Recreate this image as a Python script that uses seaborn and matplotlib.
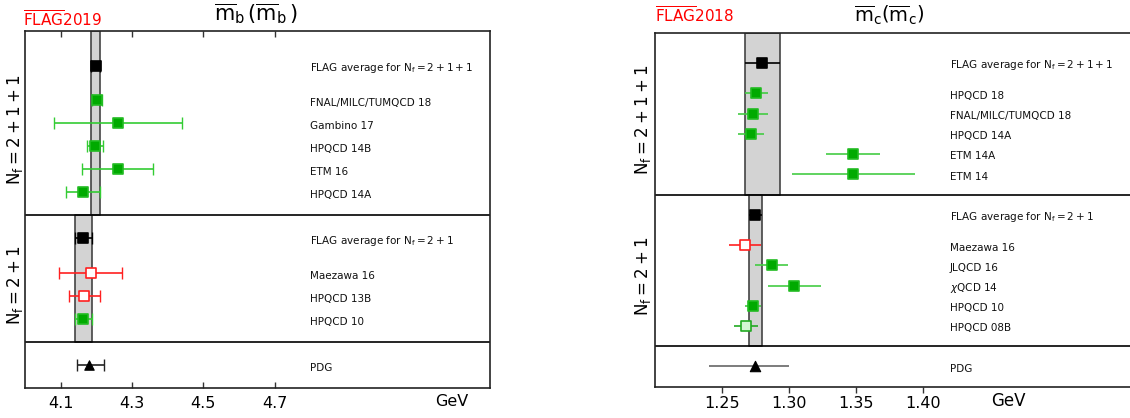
import numpy as np
import pandas as pd
import matplotlib
matplotlib.use("Agg")
import matplotlib.pyplot as plt
import matplotlib.transforms as mtransforms
import seaborn as sns

# ---------------- data: m_b(m_b) (FLAG 2019) ----------------
mb_names_4 = ["FNAL/MILC/TUMQCD 18", "Gambino 17", "HPQCD 14B", "ETM 16", "HPQCD 14A"]
mb_vals_4 = [4.201, 4.26, 4.196, 4.26, 4.162]
mb_errs_4 = [0.014, 0.18, 0.023, 0.10, 0.048]
mb_kind_4 = ["green", "green", "green", "green", "green"]
mb_avg_4, mb_avg_err_4 = 4.198, 0.012

mb_names_3 = ["Maezawa 16", "HPQCD 13B", "HPQCD 10"]
mb_vals_3 = [4.184, 4.166, 4.164]
mb_errs_3 = [0.089, 0.043, 0.023]
mb_kind_3 = ["red_open", "red_open", "green"]
mb_avg_3, mb_avg_err_3 = 4.164, 0.023

mb_pdg, mb_pdg_lo, mb_pdg_hi = 4.18, 0.035, 0.042
mb_ticks = [4.1, 4.3, 4.5, 4.7]
mb_ticklabels = ["4.1", "4.3", "4.5", "4.7"]

# ---------------- data: m_c(m_c) (FLAG 2018) ----------------
mc_names_4 = ["HPQCD 18", "FNAL/MILC/TUMQCD 18", "HPQCD 14A", "ETM 14A", "ETM 14"]
mc_vals_4 = [1.2757, 1.273, 1.2715, 1.3478, 1.348]
mc_errs_4 = [0.0084, 0.011, 0.0095, 0.020, 0.046]
mc_kind_4 = ["green", "green", "green", "green", "green"]
mc_avg_4, mc_avg_err_4 = 1.280, 0.013

mc_names_3 = ["Maezawa 16", "JLQCD 16", r"$\chi$QCD 14", "HPQCD 10", "HPQCD 08B"]
mc_vals_3 = [1.267, 1.2871, 1.304, 1.273, 1.268]
mc_errs_3 = [0.012, 0.0123, 0.020, 0.006, 0.009]
mc_kind_3 = ["red_open", "green", "green", "green", "green_open"]
mc_avg_3, mc_avg_err_3 = 1.275, 0.005

mc_pdg, mc_pdg_lo, mc_pdg_hi = 1.275, 0.035, 0.025
mc_ticks = [1.25, 1.30, 1.35, 1.40]
mc_ticklabels = ["1.25", "1.30", "1.35", "1.40"]

# ---------------- style ----------------
sns.set_style("white")
plt.rcParams["font.family"] = ["DejaVu Sans"]
plt.rcParams["mathtext.fontset"] = "dejavusans"
plt.rcParams["text.color"] = "black"
plt.rcParams["xtick.color"] = "black"
plt.rcParams["xtick.labelcolor"] = "black"

W, H = 1130, 418
fig = plt.figure(figsize=(W / 100, H / 100), dpi=100)

STY = {
    "green": dict(face="#00aa00", edge="#22bb22", err="#33bb33"),
    "red_open": dict(face="white", edge="#ff2020", err="#ff2020"),
    "green_open": dict(face="#d4f7d4", edge="#22aa22", err="#22aa22"),
    "avg": dict(face="black", edge="black", err="black"),
}


def panel(rect, xlim, names4, vals4, errs4, kind4, avg4, avgerr4,
          names3, vals3, errs3, kind3, avg3, avgerr3,
          pdg, pdglo, pdghi, ticks, ticklabels, msize, caps, tickdir,
          label_xfrac, sec_label_x, errcol_green, pdg_errcol):
    ax = fig.add_axes(rect)
    # layout in row units
    n1, n2 = len(names4), len(names3)
    y_avg4 = 1.5
    y4 = [3 + i for i in range(n1)]
    end1 = n1 + 3
    y_avg3 = end1 + 1
    y3 = [end1 + 2.5 + i for i in range(n2)]
    end2 = end1 + 2.5 + (n2 - 1) + 1
    y_pdg = end2 + 1
    end3 = end2 + 2

    ax.set_xlim(*xlim)
    ax.set_ylim(end3, 0)

    # bands
    ax.fill_betweenx([0, end1], avg4 - avgerr4, avg4 + avgerr4,
                     facecolor="#d3d3d3", edgecolor="#444444", lw=1.2, zorder=1)
    ax.fill_betweenx([end1, end2], avg3 - avgerr3, avg3 + avgerr3,
                     facecolor="#d3d3d3", edgecolor="#444444", lw=1.2, zorder=1)
    ax.axhline(end1, color="black", lw=1.2, zorder=2)
    ax.axhline(end2, color="black", lw=1.2, zorder=2)

    rows = pd.DataFrame({
        "name": ["FLAG average for $\\mathrm{N_f=2+1+1}$"] + names4 +
                ["FLAG average for $\\mathrm{N_f=2+1}$"] + names3 + ["PDG"],
        "val": [avg4] + vals4 + [avg3] + vals3 + [pdg],
        "lo": [avgerr4] + errs4 + [avgerr3] + errs3 + [pdglo],
        "hi": [avgerr4] + errs4 + [avgerr3] + errs3 + [pdghi],
        "kind": ["avg"] + kind4 + ["avg"] + kind3 + ["pdg"],
        "y": [y_avg4] + y4 + [y_avg3] + y3 + [y_pdg],
    })

    for _, r in rows.iterrows():
        if r["kind"] == "pdg":
            ec = pdg_errcol
        elif r["kind"] == "green":
            ec = errcol_green
        else:
            ec = STY[r["kind"]]["err"]
        ax.errorbar([r["val"]], [r["y"]], xerr=[[r["lo"]], [r["hi"]]], fmt="none",
                    ecolor=ec, elinewidth=1.2, capsize=caps, capthick=1.0, zorder=3)

    for kind, grp in rows.groupby("kind"):
        if kind == "pdg":
            sns.scatterplot(data=grp, x="val", y="y", marker="^", s=msize,
                            color="black", edgecolor="black", linewidth=0.8,
                            ax=ax, zorder=4, legend=False)
        else:
            st = STY[kind]
            sns.scatterplot(data=grp, x="val", y="y", marker="s", s=msize,
                            color=st["face"], edgecolor=st["edge"], linewidth=1.2,
                            ax=ax, zorder=4, legend=False)

    tr = mtransforms.blended_transform_factory(ax.transAxes, ax.transData)
    for _, r in rows.iterrows():
        ax.text(label_xfrac, r["y"] + 0.12, r["name"], transform=tr, fontsize=7.5,
                ha="left", va="center", color="#111111")

    trf = mtransforms.blended_transform_factory(fig.transFigure, ax.transData)
    ax.text(sec_label_x, end1 / 2 + 0.3, "$\\mathrm{N_f=2+1+1}$", transform=trf,
            rotation=90, fontsize=12, ha="center", va="center")
    ax.text(sec_label_x, (end1 + end2) / 2 + 0.3, "$\\mathrm{N_f=2+1}$", transform=trf,
            rotation=90, fontsize=12, ha="center", va="center")

    ax.set_xlabel("")
    ax.set_ylabel("")
    ax.set_yticks([])
    ax.set_xticks(ticks)
    ax.set_xticklabels(ticklabels, fontsize=11.5)
    if tickdir == "in":
        ax.tick_params(axis="x", direction="in", top=True, bottom=True, length=4,
                       width=1, pad=6, color="#333333")
    else:
        ax.tick_params(axis="x", direction="out", top=False, bottom=True, length=4,
                       width=1, pad=3, color="#333333")
    for sp in ax.spines.values():
        sp.set_color("#222222")
        sp.set_linewidth(1.2)
    return ax


# left panel (m_b)
lx0, lx1, ly0, ly1 = 25, 490, 31, 388
ax1 = panel([lx0 / W, 1 - ly1 / H, (lx1 - lx0) / W, (ly1 - ly0) / H],
            (4.0, 4.0 + (lx1 - lx0) / 356.7),
            mb_names_4, mb_vals_4, mb_errs_4, mb_kind_4, mb_avg_4, mb_avg_err_4,
            mb_names_3, mb_vals_3, mb_errs_3, mb_kind_3, mb_avg_3, mb_avg_err_3,
            mb_pdg, mb_pdg_lo, mb_pdg_hi, mb_ticks, mb_ticklabels,
            msize=46, caps=4, tickdir="in", label_xfrac=(310 - lx0) / (lx1 - lx0),
            sec_label_x=15 / W, errcol_green="#33cc33", pdg_errcol="#222222")

# right panel (m_c)
rx0, rx1, ry0, ry1 = 655, 1140, 32.7, 386.7
ax2 = panel([rx0 / W, 1 - ry1 / H, (rx1 - rx0) / W, (ry1 - ry0) / H],
            (1.2, 1.2 + (rx1 - rx0) / 1340.0),
            mc_names_4, mc_vals_4, mc_errs_4, mc_kind_4, mc_avg_4, mc_avg_err_4,
            mc_names_3, mc_vals_3, mc_errs_3, mc_kind_3, mc_avg_3, mc_avg_err_3,
            mc_pdg, mc_pdg_lo, mc_pdg_hi, mc_ticks, mc_ticklabels,
            msize=56, caps=0, tickdir="out", label_xfrac=(950 - rx0) / (rx1 - rx0),
            sec_label_x=643 / W, errcol_green="#44cc44", pdg_errcol="#666666")

# titles and annotations
fig.text(256 / W, 1 - 14 / H,
         r"$\overline{\mathrm{m}}_\mathrm{b}\,(\overline{\mathrm{m}}_\mathrm{b}\,)$",
         fontsize=15, ha="center", va="center")
fig.text(889 / W, 1 - 15 / H,
         r"$\overline{\mathrm{m}}_\mathrm{c}(\overline{\mathrm{m}}_\mathrm{c})$",
         fontsize=14, ha="center", va="center")
fig.text(23 / W, 1 - 20 / H, r"$\overline{\mathrm{FLAG}}$2019", color="red",
         fontsize=11, ha="left", va="center")
fig.text(655 / W, 1 - 16 / H, r"$\overline{\mathrm{FLAG}}$2018", color="red",
         fontsize=11, ha="left", va="center")
fig.text(452 / W, 1 - 401 / H, "GeV", fontsize=11.5, ha="center", va="center")
fig.text(1008 / W, 1 - 401 / H, "GeV", fontsize=12, ha="center", va="center")

fig.savefig("out.png", dpi=100)
